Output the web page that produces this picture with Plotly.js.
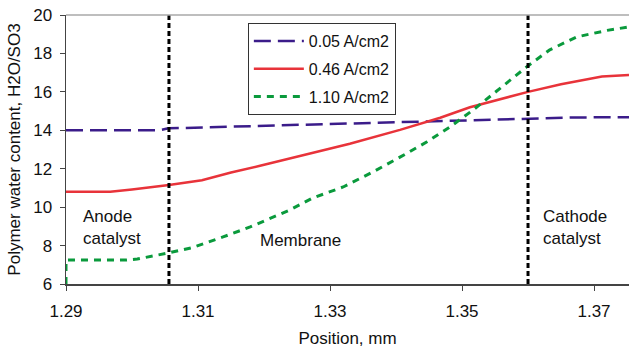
<!DOCTYPE html>
<html><head><meta charset="utf-8">
<script src="https://cdn.plot.ly/plotly-3.0.1.min.js"></script>
<style>html,body{margin:0;padding:0;background:#fff}#chart{width:629px;height:352px}</style>
</head><body><div id="chart"></div>
<script>
// Series data (position in mm, water content H2O/SO3)
const seriesNames = ["0.05 A/cm2", "0.46 A/cm2", "1.10 A/cm2"];
const xLow = [1.29, 1.3042, 1.3055, 1.313, 1.3255, 1.335, 1.3447, 1.3517, 1.36, 1.3675, 1.3753];
const yLow = [14.0, 14.0, 14.1, 14.17, 14.31, 14.4, 14.49, 14.56, 14.63, 14.67, 14.68];
const xMid = [1.29, 1.2967, 1.3, 1.3056, 1.3106, 1.315, 1.3194, 1.3255, 1.333, 1.3406, 1.3467, 1.3512, 1.3556, 1.36, 1.365, 1.3712, 1.3753];
const yMid = [10.8, 10.8, 10.92, 11.15, 11.4, 11.8, 12.15, 12.65, 13.3, 14.02, 14.65, 15.2, 15.62, 16.0, 16.4, 16.8, 16.88];
const xHigh = [1.29, 1.29, 1.2992, 1.3008, 1.3053, 1.3092, 1.3138, 1.3179, 1.3239, 1.3274, 1.332, 1.3365, 1.3406, 1.3447, 1.3482, 1.3517, 1.3568, 1.3598, 1.3633, 1.3674, 1.372, 1.3753];
const yHigh = [6.0, 7.25, 7.25, 7.3, 7.6, 7.9, 8.45, 8.97, 9.85, 10.48, 11.05, 11.83, 12.6, 13.4, 14.18, 15.06, 16.47, 17.3, 18.19, 18.86, 19.2, 19.38];
// Region boundaries and labels
const boundaries = [1.3056, 1.36];
const regionLabels = ["Anode<br>catalyst", "Membrane", "Cathode<br>catalyst"];
const regionX = [1.2923, 1.3256, 1.362];
const regionY = [8.92, 8.29, 8.92];
const xTicks = [1.29, 1.31, 1.33, 1.35, 1.37];

const font = "Liberation Sans, Arial, sans-serif";
const traces = [
  {x: xLow, y: yLow, name: seriesNames[0], legendgroup: "a", mode: "lines",
   line: {color: "#3b1c8a", width: 2.5, dash: "17px,7px"}},
  {x: xMid, y: yMid, name: seriesNames[1], legendgroup: "b", mode: "lines",
   line: {color: "#e8333a", width: 2.5}},
  {x: xHigh, y: yHigh, name: seriesNames[2], legendgroup: "c", mode: "lines",
   line: {color: "#0a9a3c", width: 3, dash: "7px,6px"}}
];
const shapes = boundaries.map(b => ({type: "line", xref: "x", yref: "paper", x0: b, x1: b, y0: 0, y1: 1,
  line: {color: "#000", width: 3, dash: "5px,3px"}}));
shapes.push({type: "line", xref: "paper", yref: "paper", x0: 0, x1: 1, y0: 1, y1: 1,
  line: {color: "#a8a8a8", width: 1.5}});
const annotations = regionLabels.map((t, i) => ({x: regionX[i], y: regionY[i], xref: "x", yref: "y",
  text: t, showarrow: false, xanchor: i === 1 ? "center" : "left", align: "left",
  font: {family: font, size: 17, color: "#111"}}));
const layout = {
  width: 629, height: 352,
  margin: {l: 66, r: 0, t: 15, b: 68},
  paper_bgcolor: "#fff", plot_bgcolor: "#fff",
  font: {family: font, size: 17, color: "#111"},
  showlegend: true,
  legend: {x: 0.323, y: 0.97, xanchor: "left", yanchor: "top", bgcolor: "#fff",
    bordercolor: "#333", borderwidth: 1, font: {family: font, size: 16, color: "#111"},
    tracegroupgap: 4, entrywidth: 124, itemwidth: 50},
  xaxis: {range: [1.29, 1.3753], tickvals: xTicks, ticktext: xTicks.map(v => v.toFixed(2)),
    showgrid: false, zeroline: false, showline: true, linecolor: "#444", linewidth: 1.5,
    ticks: "outside", ticklen: 5, tickcolor: "#444", ticklabelstandoff: 6,
    title: {text: "Position, mm", font: {family: font, size: 17}, standoff: 12}},
  yaxis: {range: [6, 20], dtick: 2, tick0: 6, showgrid: false, zeroline: false, showline: true,
    linecolor: "#444", linewidth: 1.5, ticks: "outside", ticklen: 5, tickcolor: "#444",
    ticklabelstandoff: 4,
    title: {text: "Polymer water content, H2O/SO3", font: {family: font, size: 17}, standoff: 8}},
  shapes: shapes, annotations: annotations
};
Plotly.newPlot("chart", traces, layout, {staticPlot: true});
</script></body></html>
